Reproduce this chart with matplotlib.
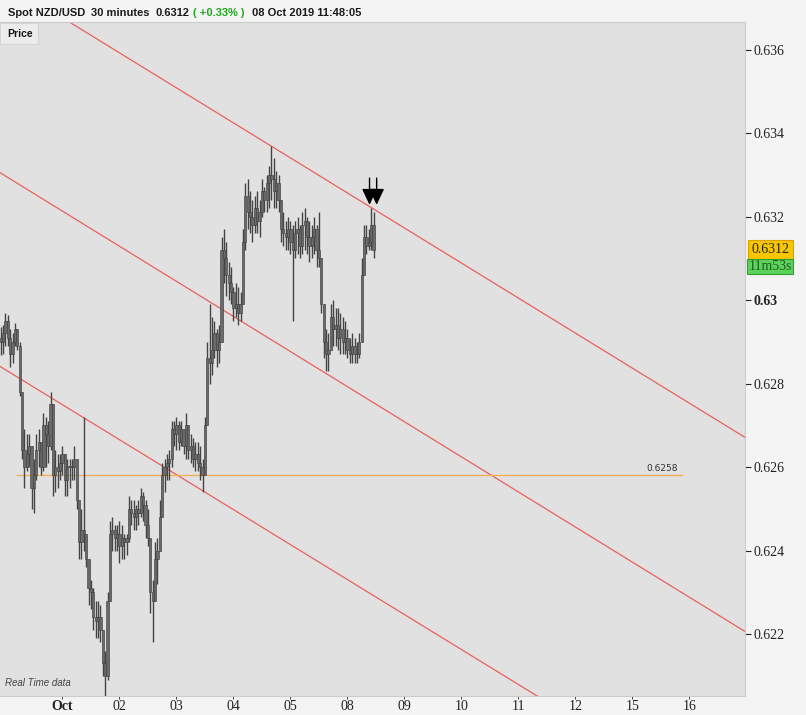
import numpy as np
import matplotlib
matplotlib.use('Agg')
import matplotlib.pyplot as plt
from matplotlib.patches import Rectangle

# hourly candles, Spot NZD/USD
closes = [
    0.6290, 0.6292, 0.6295, 0.6291, 0.6287, 0.6290, 0.6293, 0.6289, 0.6278, 0.6264,
    0.6260, 0.6263, 0.6265, 0.6255, 0.6258, 0.6264, 0.6266, 0.6260, 0.6270, 0.6268,
    0.6265, 0.6275, 0.6258, 0.6260, 0.6259, 0.6261, 0.6263, 0.6257, 0.6260, 0.6260,
    0.6260, 0.6262, 0.6252, 0.6242, 0.6245, 0.6244, 0.6238, 0.6231, 0.6230, 0.6224,
    0.6223, 0.6224, 0.6221, 0.6213, 0.6210, 0.6228, 0.6244, 0.6245, 0.6243, 0.6244,
    0.6241, 0.6243, 0.6242, 0.6243, 0.6250, 0.6249, 0.6248, 0.6250, 0.6249, 0.6253,
    0.6251, 0.6246, 0.6243, 0.6230, 0.6228, 0.6238, 0.6240, 0.6248, 0.6258, 0.6260,
    0.6261, 0.6262, 0.6269, 0.6268, 0.6270, 0.6266, 0.6269, 0.6265, 0.6270, 0.6264,
    0.6265, 0.6262, 0.6263, 0.6261, 0.6260, 0.6258, 0.6270, 0.6286, 0.6285, 0.6288,
    0.6292, 0.6288, 0.6290, 0.6312, 0.6310, 0.6306, 0.6304, 0.6302, 0.6298, 0.6299,
    0.6297, 0.6299, 0.6314, 0.6325, 0.6321, 0.6320, 0.6318, 0.6322, 0.6319, 0.6321,
    0.6326, 0.6324, 0.6328, 0.6330, 0.6329, 0.6326, 0.6328, 0.6324, 0.6317, 0.6316,
    0.6315, 0.6317, 0.6314, 0.6312, 0.6316, 0.6317, 0.6313, 0.6318, 0.6319, 0.6315,
    0.6313, 0.6315, 0.6317, 0.6312, 0.6310, 0.6299, 0.6290, 0.6287, 0.6288, 0.6296,
    0.6293, 0.6294, 0.6291, 0.6293, 0.6290, 0.6291, 0.6288, 0.6287, 0.6289, 0.6287,
    0.6287, 0.6290, 0.6306, 0.6315, 0.6313, 0.6314, 0.6318, 0.6312,
]
highs = [
    0.62935, 0.6294, 0.6297, 0.62964, 0.6293, 0.6292, 0.62945, 0.6293, 0.6290, 0.6278,
    0.6269, 0.6268, 0.6268, 0.6265, 0.6262, 0.6268, 0.6269, 0.6265, 0.6273, 0.6272,
    0.6271, 0.6278, 0.6275, 0.6264, 0.6263, 0.6263, 0.6265, 0.6263, 0.6262, 0.6262,
    0.6262, 0.6265, 0.6262, 0.6252, 0.6250, 0.6272, 0.6244, 0.6238, 0.6233, 0.6231,
    0.6228, 0.6228, 0.6227, 0.6221, 0.6216, 0.6230, 0.6247, 0.6248, 0.6246, 0.6246,
    0.6247, 0.6246, 0.6244, 0.6244, 0.6253, 0.6252, 0.6252, 0.6251, 0.6252, 0.6255,
    0.6254, 0.6252, 0.6250, 0.6243, 0.6233, 0.6242, 0.6243, 0.6252, 0.6261, 0.6262,
    0.6263, 0.6264, 0.6271, 0.6271, 0.6272, 0.6271, 0.6271, 0.6268, 0.6273, 0.6270,
    0.6268, 0.6267, 0.6266, 0.6266, 0.6265, 0.6262, 0.6272, 0.6290, 0.6299, 0.6296,
    0.6295, 0.6293, 0.6294, 0.6315, 0.6317, 0.6314, 0.6309, 0.6308, 0.6303, 0.6304,
    0.6303, 0.6302, 0.6317, 0.6328, 0.6329, 0.6326, 0.6324, 0.6325, 0.6326, 0.6324,
    0.6329, 0.6327, 0.6330, 0.6332, 0.6337, 0.6334, 0.6331, 0.6330, 0.6324, 0.6321,
    0.6319, 0.6320, 0.6319, 0.6318, 0.6319, 0.6320, 0.6318, 0.6321, 0.6322, 0.6320,
    0.6319, 0.6318, 0.6320, 0.6318, 0.6321, 0.6310, 0.6299, 0.6293, 0.6292, 0.6299,
    0.6300, 0.6298, 0.6298, 0.6297, 0.6296, 0.6295, 0.6293, 0.6291, 0.6292, 0.6291,
    0.6290, 0.6292, 0.6310, 0.6318, 0.6318, 0.6317, 0.6322, 0.6321,
]
lows = [
    0.62868, 0.6287, 0.6289, 0.6289, 0.6284, 0.6285, 0.6289, 0.6288, 0.6277, 0.6262,
    0.6255, 0.6259, 0.6260, 0.6250, 0.6249, 0.6257, 0.6260, 0.6258, 0.6259, 0.6260,
    0.6261, 0.6264, 0.6253, 0.6254, 0.6255, 0.6257, 0.6258, 0.6253, 0.6253, 0.6255,
    0.6257, 0.6257, 0.6250, 0.6238, 0.6238, 0.6240, 0.6236, 0.6227, 0.6226, 0.6221,
    0.6219, 0.6219, 0.6218, 0.6210, 0.6205, 0.6209, 0.6228, 0.6240, 0.6240, 0.6240,
    0.6237, 0.6238, 0.6238, 0.6239, 0.6242, 0.6246, 0.6245, 0.6245, 0.6246, 0.6248,
    0.6247, 0.6243, 0.6241, 0.6225, 0.6218, 0.6228, 0.6232, 0.6240, 0.6248, 0.6254,
    0.6257, 0.6257, 0.6260, 0.6265, 0.6264, 0.6264, 0.6265, 0.6263, 0.6262, 0.6262,
    0.6261, 0.6260, 0.6259, 0.6259, 0.6257, 0.6254, 0.6258, 0.6270, 0.6280, 0.6282,
    0.6286, 0.6284, 0.6285, 0.6290, 0.6304, 0.6301, 0.6300, 0.6299, 0.6295, 0.6296,
    0.6294, 0.6295, 0.6299, 0.6312, 0.6317, 0.6316, 0.6314, 0.6316, 0.6316, 0.6315,
    0.6320, 0.6321, 0.6321, 0.6322, 0.6324, 0.6322, 0.6322, 0.6321, 0.6314, 0.6313,
    0.6312, 0.6312, 0.6311, 0.6295, 0.6310, 0.6311, 0.6310, 0.6311, 0.6312, 0.6311,
    0.6309, 0.6310, 0.6311, 0.6308, 0.6308, 0.6297, 0.6286, 0.6283, 0.6283, 0.6288,
    0.6289, 0.6289, 0.6288, 0.6287, 0.6287, 0.6287, 0.6286, 0.6285, 0.6285, 0.6285,
    0.6285, 0.6286, 0.6290, 0.6306, 0.6311, 0.6312, 0.6312, 0.6310,
]
first_open = 0.6291

# x axis: one unit per hour, labels at day starts
day_ticks = [26, 50, 74, 98, 122, 146, 170, 194, 218, 242, 266, 290]
day_labels = ['Oct', '02', '03', '04', '05', '08', '09', '10', '11', '12', '15', '16']
price_ticks = [0.622, 0.624, 0.626, 0.628, 0.630, 0.632, 0.634, 0.636]
price_labels = ['0.622', '0.624', '0.626', '0.628', '0.63', '0.632', '0.634', '0.636']

# descending channel, price at left edge and at right edge
x_left, x_right = -0.3, 313.4
channel_left = [0.63768, 0.63305, 0.62841]
channel_right = [0.62671, 0.62206, 0.61746]

level = 0.6258
level_span = (7, 287)
signal_x = [155.3, 158.3]
signal_price = 0.63228
last_price = 0.6312

closes = np.array(closes)
highs = np.array(highs)
lows = np.array(lows)
opens = np.concatenate([[first_open], closes[:-1]])
idx = np.arange(len(closes))
highs = np.maximum(highs, np.maximum(opens, closes))
lows = np.minimum(lows, np.minimum(opens, closes))

W, H = 806, 715
fig = plt.figure(figsize=(W / 100, H / 100), dpi=100, facecolor='#f4f4f4')
ax = fig.add_axes([0.0, 1 - 696 / H, 745 / W, (696 - 22) / H])
ax.set_facecolor('#e1e1e1')

# candles
ax.vlines(idx, lows, highs, color='#444444', lw=1.0, zorder=3)
body_lo = np.minimum(opens, closes)
body_h = np.maximum(np.abs(closes - opens), 0.00002)
ax.bar(idx, body_h, bottom=body_lo, width=0.95, color='#6a6a6a',
       edgecolor='#3c3c3c', linewidth=0.4, zorder=4)

# channel lines
for yl, yr in zip(channel_left, channel_right):
    ax.plot([x_left, x_right], [yl, yr], color='#e8615c', lw=0.9, zorder=2)

ax.plot(level_span, [level, level], color='#f2ae5a', lw=1.0, zorder=2)
ax.text(level_span[1] - 2, level + 0.00006, '0.6258', ha='right', va='bottom',
        fontsize=6.5, color='#333333', family='DejaVu Sans')

for sx in signal_x:
    ax.annotate('', xy=(sx, signal_price), xytext=(sx, signal_price + 0.00064),
                arrowprops=dict(arrowstyle='-|>,head_width=0.33,head_length=0.7',
                                color='black', lw=1.0, mutation_scale=14,
                                shrinkA=0, shrinkB=0), zorder=6)

ax.set_xlim(x_left, x_right)
ax.set_ylim(0.620515, 0.636659)

ax.yaxis.tick_right()
ax.set_yticks(price_ticks)
ax.set_yticklabels(price_labels, family='Liberation Serif', fontsize=10)
ax.set_xticks(day_ticks)
ax.set_xticklabels(day_labels, family='Liberation Serif', fontsize=10)
ax.tick_params(axis='y', direction='out', length=4, width=0.8, pad=2, colors='#222222')
ax.tick_params(axis='x', direction='out', length=2.5, width=0.6, pad=0.5, colors='#222222')
ax.get_yticklabels()[4].set_fontweight('bold')
ax.get_xticklabels()[0].set_fontweight('bold')

ax.spines['left'].set_visible(False)
for side in ['right', 'bottom', 'top']:
    ax.spines[side].set_color('#cccccc')
    ax.spines[side].set_linewidth(0.8)

# last price boxes on the price scale
ax.annotate(f'{last_price:.4f}', xy=(1, last_price), xycoords=('axes fraction', 'data'),
            xytext=(4.5, 0), textcoords='offset points', ha='left', va='center',
            family='Liberation Serif', fontsize=10, color='#222222', annotation_clip=False,
            bbox=dict(boxstyle='square,pad=0.25', fc='#f7c600', ec='#d9a000', lw=0.8))
ax.annotate('11m53s', xy=(1, last_price), xycoords=('axes fraction', 'data'),
            xytext=(2.5, -12), textcoords='offset points', ha='left', va='center',
            family='Liberation Serif', fontsize=10, color='#1d5c1d', annotation_clip=False,
            bbox=dict(boxstyle='square,pad=0.1', fc='#5bd35b', ec='#2f9e2f', lw=0.8))

# "Price" tab
ax.add_patch(Rectangle((0, 1 - 44 / H), 38 / W, 21 / H, transform=fig.transFigure,
                       fc='#ececec', ec='#d4d4d4', lw=0.8, clip_on=False, zorder=7))
fig.text(7 / W, 1 - 34 / H, 'Price', fontsize=7.5, fontweight='bold', va='center',
         family='Liberation Sans', color='#111111', zorder=8)

ax.text(5 / 745, 0.015, 'Real Time data', transform=ax.transAxes,
        fontsize=7, style='italic', color='#444444', family='Liberation Sans')

# header line
ty = 1 - 13 / H
hdr = dict(fontsize=8, fontweight='bold', va='center', family='Liberation Sans')
fig.text(8 / W, ty, 'Spot NZD/USD', color='#1a1a1a', **hdr)
fig.text(91 / W, ty, '30 minutes', color='#1a1a1a', **hdr)
fig.text(156 / W, ty, '0.6312', color='#1a1a1a', **hdr)
fig.text(193 / W, ty, '( +0.33% )', color='#1fa81f', **hdr)
fig.text(252 / W, ty, '08 Oct 2019 11:48:05', color='#1a1a1a', **hdr)

fig.savefig('out.png', dpi=100, facecolor=fig.get_facecolor())
